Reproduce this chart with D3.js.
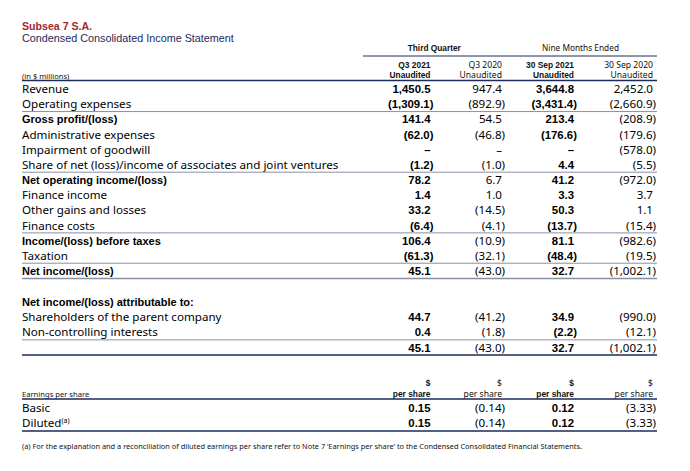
<!DOCTYPE html>
<html><head><meta charset="utf-8">
<script src="https://cdn.jsdelivr.net/npm/d3@7"></script>
<style>
html,body{margin:0;padding:0;background:#fff;}
svg{display:block;}
</style></head>
<body>
<svg id="c" width="690" height="471"></svg>
<script>
// ---------- data ----------
const title = "Subsea 7 S.A.";
const subtitle = "Condensed Consolidated Income Statement";
const unitsLabel = "(in $ millions)";
const groupHeaders = ["Third Quarter", "Nine Months Ended"];
const columnKeys = ["q3_2021", "q3_2020", "ytd_2021", "ytd_2020"];
const columnPeriods = ["Q3 2021", "Q3 2020", "30 Sep 2021", "30 Sep 2020"];
const columnStatus = ["Unaudited", "Unaudited", "Unaudited", "Unaudited"];

const rowLabels = [
  "Revenue", "Operating expenses", "Gross profit/(loss)", "Administrative expenses",
  "Impairment of goodwill", "Share of net (loss)/income of associates and joint ventures",
  "Net operating income/(loss)", "Finance income", "Other gains and losses", "Finance costs",
  "Income/(loss) before taxes", "Taxation", "Net income/(loss)"
];
const q3_2021  = [1450.5, -1309.1, 141.4, -62.0, null, -1.2, 78.2, 1.4, 33.2, -6.4, 106.4, -61.3, 45.1];
const q3_2020  = [947.4, -892.9, 54.5, -46.8, null, -1.0, 6.7, 1.0, -14.5, -4.1, -10.9, -32.1, -43.0];
const ytd_2021 = [3644.8, -3431.4, 213.4, -176.6, null, 4.4, 41.2, 3.3, 50.3, -13.7, 81.1, -48.4, 32.7];
const ytd_2020 = [2452.0, -2660.9, -208.9, -179.6, -578.0, -5.5, -972.0, 3.7, 1.1, -15.4, -982.6, -19.5, -1002.1];

const attribHeading = "Net income/(loss) attributable to:";
const attribLabels = ["Shareholders of the parent company", "Non-controlling interests", ""];
const attrib_q3_2021  = [44.7, 0.4, 45.1];
const attrib_q3_2020  = [-41.2, -1.8, -43.0];
const attrib_ytd_2021 = [34.9, -2.2, 32.7];
const attrib_ytd_2020 = [-990.0, -12.1, -1002.1];

const epsHeading = "Earnings per share";
const epsUnitTop = "$";
const epsUnitBottom = "per share";
const epsLabels = ["Basic", "Diluted"];
const eps_q3_2021  = [0.15, 0.15];
const eps_q3_2020  = [-0.14, -0.14];
const eps_ytd_2021 = [0.12, 0.12];
const eps_ytd_2020 = [-3.33, -3.33];

const footnote = "(a) For the explanation and a reconciliation of diluted earnings per share refer to Note 7 \u2018Earnings per share\u2019 to the Condensed Consolidated Financial Statements.";

const boldRowLabels = ["Gross profit/(loss)", "Net operating income/(loss)", "Income/(loss) before taxes", "Net income/(loss)"];
const boldColumns = ["q3_2021", "ytd_2021"];

// ---------- layout ----------
const svg = d3.select("#c");
const NAVY = "#1d2a5c", GREY = "#8a8fa6", RED = "#a3282c";
const labelFont = "'Noto Sans', 'Open Sans', sans-serif";
const boldFont = "'Liberation Sans', Arial, sans-serif";
const left = 22, right = 657;

const xCol = d3.scaleOrdinal().domain(columnKeys).range([433.5, 505, 577, 656]);
const posPad = 3;

const fmt1 = d3.format(",.1f"), fmt2 = d3.format(",.2f");
function fmtVal(v, f) {
  if (v === null) return "\u2013";
  return v < 0 ? "(" + f(-v) + ")" : f(v);
}

// title
svg.append("text").attr("x", left).attr("y", 30).text(title)
  .attr("font-family", boldFont).attr("font-weight", "bold").attr("font-size", 10.6).attr("fill", RED);
svg.append("text").attr("x", left).attr("y", 41.5).text(subtitle)
  .attr("font-family", boldFont).attr("font-size", 10.8).attr("fill", NAVY);

// group headers
const groupCenters = [
  (xCol("q3_2021") - 70 + xCol("q3_2020")) / 2,
  (xCol("q3_2020") + xCol("ytd_2020")) / 2
];
svg.selectAll("text.grp").data(groupHeaders).join("text").attr("class", "grp")
  .attr("x", (d, i) => groupCenters[i]).attr("y", 51).attr("text-anchor", "middle")
  .attr("font-size", 8.3)
  .attr("font-family", (d, i) => i === 0 ? boldFont : labelFont)
  .attr("font-weight", (d, i) => i === 0 ? "bold" : "normal")
  .attr("fill", "#111").text(d => d);
svg.append("line").attr("x1", 363).attr("x2", right).attr("y1", 56).attr("y2", 56)
  .attr("stroke", NAVY).attr("stroke-width", 1);

// column headers
columnKeys.forEach((k, i) => {
  const b = boldColumns.includes(k);
  [columnPeriods[i], columnStatus[i]].forEach((t, j) => {
    svg.append("text").attr("x", xCol(k) - posPad).attr("y", 67.5 + j * 10.5)
      .attr("text-anchor", "end").attr("font-size", b ? 8.4 : 8.6)
      .attr("font-family", b ? boldFont : labelFont).attr("font-weight", b ? "bold" : "normal")
      .attr("fill", "#111").text(t);
  });
});
svg.append("text").attr("x", left).attr("y", 78.5).text(unitsLabel)
  .attr("font-family", labelFont).attr("font-size", 7.6).attr("fill", "#111");

function hline(y, color, w) {
  svg.append("line").attr("x1", left).attr("x2", right).attr("y1", y).attr("y2", y)
    .attr("stroke", color).attr("stroke-width", w);
}
hline(80.5, NAVY, 1.6);

// generic block renderer
function block(labels, cols, yScale, f, isBold) {
  const g = svg.append("g");
  labels.forEach((lab, i) => {
    const y = yScale(i) + 4.2;
    const lb = isBold(lab);
    g.append("text").attr("x", left).attr("y", y).text(lab)
      .attr("font-family", lb ? boldFont : labelFont).attr("font-weight", lb ? "bold" : "normal")
      .attr("font-size", lb ? 11 : 11.6).attr("fill", "#000");
    columnKeys.forEach((k, ci) => {
      const v = cols[ci][i];
      const b = boldColumns.includes(k);
      g.append("text").attr("x", xCol(k) - (v === null || v >= 0 ? posPad : 0)).attr("y", y)
        .attr("text-anchor", "end").text(fmtVal(v, f))
        .attr("font-family", b ? boldFont : labelFont).attr("font-weight", b ? "bold" : "normal")
        .attr("font-size", b ? 11.4 : 11.6).attr("fill", "#000");
    });
  });
}

// main block
const yMain = d3.scaleLinear().domain([0, rowLabels.length - 1]).range([88.8, 270.8]);
block(rowLabels, [q3_2021, q3_2020, ytd_2021, ytd_2020], yMain, fmt1, l => boldRowLabels.includes(l));
const step = yMain(1) - yMain(0);
[1, 5, 9, 11].forEach(i => hline(yMain(i) + step / 2, GREY, 1));
hline(yMain(12) + step / 2, GREY, 1.5);

// attributable block
const yAttr = d3.scaleLinear().domain([-1, attribLabels.length - 1]).range([302, 347.4]);
svg.append("text").attr("x", left).attr("y", yAttr(-1) + 4.2).text(attribHeading)
  .attr("font-family", boldFont).attr("font-weight", "bold").attr("font-size", 11).attr("fill", "#000");
block(attribLabels, [attrib_q3_2021, attrib_q3_2020, attrib_ytd_2021, attrib_ytd_2020], yAttr, fmt1, () => false);
const stepA = yAttr(1) - yAttr(0);
hline(yAttr(1) + stepA / 2, GREY, 1);
hline(yAttr(2) + stepA / 2, NAVY, 1.6);

// EPS block
svg.append("text").attr("x", left).attr("y", 397).text(epsHeading)
  .attr("font-family", labelFont).attr("font-size", 7.6).attr("fill", "#111");
columnKeys.forEach(k => {
  const b = boldColumns.includes(k);
  [epsUnitTop, epsUnitBottom].forEach((t, j) => {
    svg.append("text").attr("x", xCol(k) - posPad).attr("y", 386 + j * 10.5)
      .attr("text-anchor", "end").attr("font-size", b ? 8.4 : 8.6)
      .attr("font-family", b ? boldFont : labelFont).attr("font-weight", b ? "bold" : "normal")
      .attr("fill", "#111").text(t);
  });
});
hline(399, NAVY, 1.3);
const yEps = d3.scaleLinear().domain([0, 1]).range([408, 423]);
block(epsLabels, [eps_q3_2021, eps_q3_2020, eps_ytd_2021, eps_ytd_2020], yEps, fmt2, () => false);
// superscript marker on Diluted
const dil = svg.selectAll("text").filter(function () { return d3.select(this).text() === "Diluted"; });
dil.append("tspan").attr("dy", -4).attr("font-size", 7).text("(a)");
hline(431, NAVY, 1.6);

svg.append("text").attr("x", left).attr("y", 448.5).text(footnote)
  .attr("font-family", labelFont).attr("font-size", 7.4).attr("fill", "#111");
</script>
</body></html>
